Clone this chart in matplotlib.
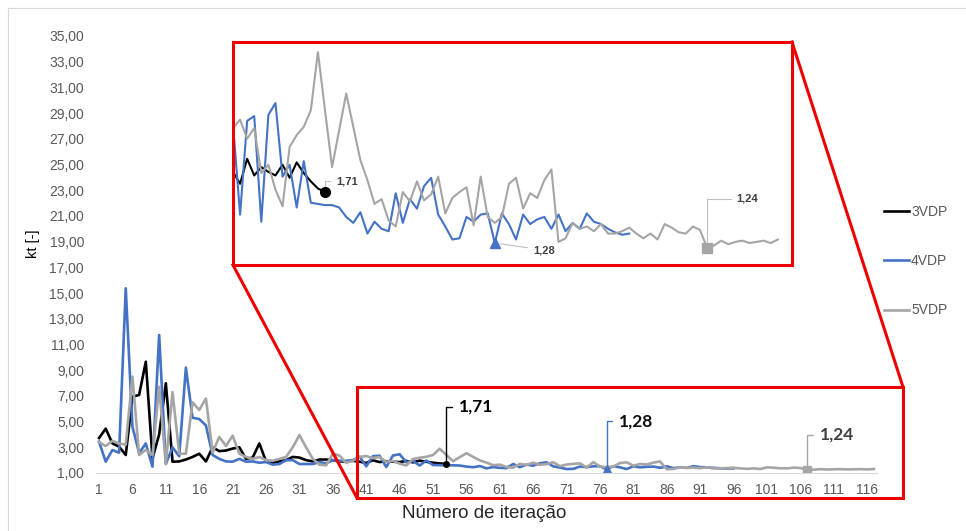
import numpy as np
import matplotlib
matplotlib.use("Agg")
import matplotlib.pyplot as plt
from matplotlib.patches import Rectangle
from matplotlib.lines import Line2D

plt.rcParams['font.family'] = ['Liberation Sans', 'DejaVu Sans']

# dados (kt por iteração)
kt_3vdp = [3.72, 4.45, 3.3, 3.05, 2.4, 6.94, 7.07, 9.66, 2.14, 4.0,
           7.98, 1.88, 1.9, 2.05, 2.25, 2.5, 1.9, 3.0, 2.7, 2.75,
           2.9, 3.0, 2.1, 2.2, 3.3, 1.9, 1.8, 1.9, 2.0, 2.25,
           2.2, 2.0, 1.9, 2.05, 2.05, 2.0, 1.9, 1.9, 1.95, 1.88,
           1.78, 1.99, 1.85, 1.92, 1.88, 1.85, 1.94, 1.83, 1.96, 1.87,
           1.80, 1.74, 1.71]

kt_4vdp = [3.44, 1.88, 2.79, 2.58, 15.37, 4.6, 2.55, 3.3, 1.49, 11.74,
           1.7, 3.0, 2.3, 9.2, 5.3, 5.2, 4.7, 2.4, 2.1, 1.9,
           1.88, 2.1, 1.88, 1.9, 1.8, 1.85, 1.65, 1.7, 2.0, 2.0,
           1.7, 1.7, 1.7, 1.85, 1.75, 2.0, 1.95, 1.95, 2.0, 2.28,
           1.52, 2.31, 2.35, 1.46, 2.36, 2.46, 1.84, 1.94, 1.58, 1.97,
           1.62, 1.61, 1.60, 1.60, 1.58, 1.50, 1.45, 1.54, 1.36, 1.46,
           1.40, 1.38, 1.70, 1.45, 1.65, 1.57, 1.76, 1.83, 1.52, 1.42,
           1.31, 1.32, 1.50, 1.46, 1.52, 1.53, 1.28, 1.53, 1.44, 1.31,
           1.52, 1.44, 1.48, 1.50, 1.40, 1.52, 1.38, 1.45, 1.40, 1.53,
           1.46, 1.44, 1.40, 1.37, 1.35, 1.36]

kt_5vdp = [3.4, 3.1, 3.5, 3.3, 3.2, 8.5, 2.4, 2.8, 2.4, 7.7,
           1.7, 7.3, 2.5, 2.5, 6.5, 5.9, 6.8, 2.6, 3.8, 3.1,
           3.9, 2.5, 2.25, 2.1, 2.25, 2.0, 1.95, 2.1, 2.25, 3.0,
           3.95, 3.0, 2.1, 1.65, 1.6, 2.5, 2.35, 1.8, 1.95, 2.25,
           2.32, 2.16, 2.25, 1.87, 1.94, 1.73, 1.59, 2.09, 2.19, 2.26,
           2.40, 2.89, 2.40, 1.92, 2.23, 2.54, 2.26, 1.98, 1.81, 1.61,
           1.65, 1.47, 1.42, 1.71, 1.63, 1.80, 1.64, 1.69, 1.84, 1.53,
           1.66, 1.71, 1.75, 1.43, 1.84, 1.50, 1.45, 1.50, 1.78, 1.83,
           1.57, 1.70, 1.66, 1.81, 1.90, 1.29, 1.32, 1.45, 1.40, 1.42,
           1.38, 1.44, 1.36, 1.36, 1.38, 1.41, 1.36, 1.32, 1.36, 1.31,
           1.44, 1.41, 1.37, 1.36, 1.42, 1.39, 1.24, 1.26, 1.30, 1.27,
           1.29, 1.30, 1.28, 1.29, 1.30, 1.28, 1.31]

series_names = ['3VDP', '4VDP', '5VDP']
series_data = [kt_3vdp, kt_4vdp, kt_5vdp]
colors = ['#000000', '#4472C4', '#A5A5A5']
markers = ['o', '^', 's']
y_ticks = np.arange(1, 36, 2)
x_ticks = np.arange(1, 117, 5)

W, H = 966, 531
def fx(px):
    return px / W
def fy(py):
    return 1 - py / H

fig = plt.figure(figsize=(W / 100, H / 100), dpi=100)

# moldura do gráfico
fig.add_artist(Line2D([fx(8), fx(8)], [fy(8), 0], transform=fig.transFigure, color='#D9D9D9', lw=0.8))
fig.add_artist(Line2D([fx(8), 1], [fy(8), fy(8)], transform=fig.transFigure, color='#D9D9D9', lw=0.8))

ax = fig.add_axes([fx(95.7), fy(473), (877.2 - 95.7) / W, (473 - 36) / H])
for name, data, c in zip(series_names, series_data, colors):
    it = np.arange(1, len(data) + 1)
    ax.plot(it, data, color=c, lw=1.9, label=name)

ax.set_xlim(0.5, 117.5)
ax.set_ylim(1, 35)
ax.set_yticks(y_ticks)
ax.set_yticklabels([f'{v:.2f}'.replace('.', ',') for v in y_ticks])
ax.set_xticks(x_ticks)
ax.set_xticklabels([str(v) for v in x_ticks])
ax.tick_params(length=0, labelsize=10, labelcolor='#595959')
ax.tick_params(axis='y', pad=8.4)
ax.tick_params(axis='x', pad=7)
for s in ['top', 'right', 'left']:
    ax.spines[s].set_visible(False)
ax.spines['bottom'].set_color('#D9D9D9')
ax.set_ylabel('kt [-]', fontsize=10.5, color='#000000')
ax.yaxis.set_label_coords((40 - 95.7) / 781.5, (473 - 243.5) / 437)
fig.text(fx(484), fy(513), 'Número de iteração', ha='center', va='center', fontsize=13.5, color='#262626')

# mínimos no gráfico principal
main_off = [(13, 57), (12, 48), (13, 35)]
main_txtc = ['#000000', '#0D0D0D', '#3F3F3F']
main_ms = [4, 5.5, 5.5]
for data, c, m, off, tc, ms in zip(series_data, colors, markers, main_off, main_txtc, main_ms):
    k = int(np.argmin(data))
    x, y = k + 1, data[k]
    ax.plot(x, y, marker=m, color=c, ms=ms, ls='none')
    ax.annotate(f'{y:.2f}'.replace('.', ','), xy=(x, y), xytext=off, textcoords='offset pixels',
                ha='left', va='center', fontsize=12.5, fontweight='bold', family=['Lato', 'DejaVu Sans'],
                color=tc,
                arrowprops=dict(arrowstyle='-', color=c, lw=1.0, shrinkA=3, shrinkB=2,
                                connectionstyle='angle,angleA=0,angleB=90,rad=0'))

fig.legend(loc='center left', bbox_to_anchor=(fx(884), fy(261)), frameon=False, fontsize=10,
           handlelength=1.8, handletextpad=0.15, labelspacing=2.55, borderpad=0, borderaxespad=0,
           labelcolor='#595959')

# ampliação
red = '#EE0000'
axin = fig.add_axes([fx(233), fy(265), (792 - 233) / W, (265 - 42) / H])
for data, c in zip(series_data, colors):
    it = np.arange(1, len(data) + 1)
    axin.plot(it, data, color=c, lw=1.5)
axin.set_xlim(40, 119)
axin.set_ylim(1.095, 2.975)
axin.set_xticks([])
axin.set_yticks([])
for s in axin.spines.values():
    s.set_color(red)
    s.set_linewidth(2.2)

in_off = [(11, 11), (38, -7), (29, 49)]
in_conn = ['angle,angleA=0,angleB=90,rad=0', 'arc3', 'angle,angleA=0,angleB=90,rad=0']
for data, c, m, off, cs in zip(series_data, colors, markers, in_off, in_conn):
    k = int(np.argmin(data))
    x, y = k + 1, data[k]
    axin.plot(x, y, marker=m, color=c, ms=7, ls='none')
    axin.annotate(f'{y:.2f}'.replace('.', ','), xy=(x, y), xytext=off, textcoords='offset pixels',
                  ha='left', va='center', fontsize=8, fontweight='bold', color='#404040',
                  arrowprops=dict(arrowstyle='-', color='#BFBFBF', lw=0.8, shrinkA=2, shrinkB=4,
                                  connectionstyle=cs))

fig.add_artist(Rectangle((fx(357), fy(498)), (903 - 357) / W, (498 - 387) / H, transform=fig.transFigure,
                         fill=False, ec=red, lw=2.2))
fig.add_artist(Line2D([fx(233), fx(357)], [fy(265), fy(498)], transform=fig.transFigure, color=red, lw=2.2))
fig.add_artist(Line2D([fx(792), fx(903)], [fy(42), fy(387)], transform=fig.transFigure, color=red, lw=2.2))

fig.savefig('out.png', dpi=100)
